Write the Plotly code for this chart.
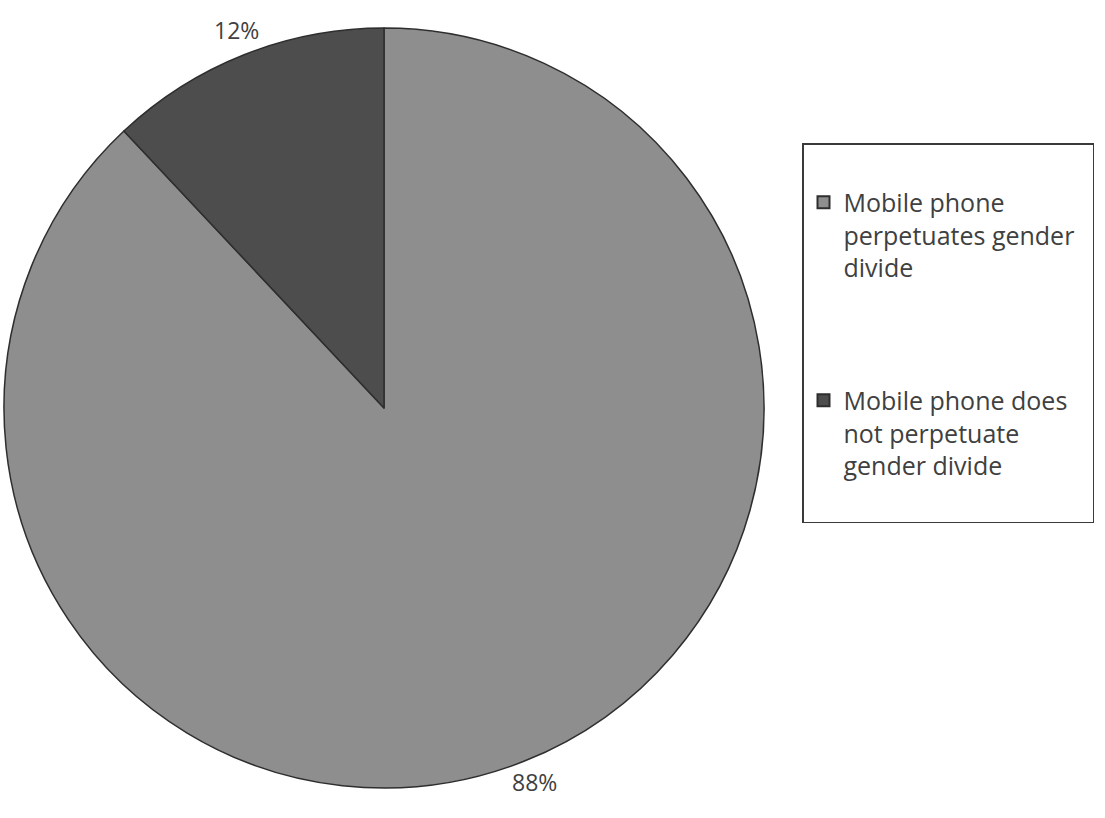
import plotly.graph_objects as go

labels = ["Mobile phone<br>perpetuates gender<br>divide", "Mobile phone does<br>not perpetuate<br>gender divide"]
values = [88, 12]
colors = ["#8e8e8e", "#4d4d4d"]

W, H = 1105, 818
total = sum(values)
pct = [f"{round(v / total * 100)}%" for v in values]

# legend spacing: blank lines after each entry, slight padding on widest line
legend_names = [labels[0].replace("gender<br>", "gender\u00a0\u00a0<br>") + "<br> <br> <br> ",
                labels[1] + "<br> "]

fig = go.Figure(go.Pie(
    labels=legend_names, values=values, sort=False, direction="clockwise", rotation=0,
    marker=dict(colors=colors, line=dict(color="#2e2e2e", width=1.5)),
    textinfo="none",
    domain=dict(x=[4 / W, 764 / W], y=[1 - 788 / H, 1 - 28 / H]),
    showlegend=True,
))
label_pos = [(534, 800), (212, 12)]
for t, (px, py) in zip(pct, label_pos):
    fig.add_annotation(x=px / W, y=1 - py / H, xref="paper", yref="paper",
                       text=t, showarrow=False,
                       font=dict(size=23, color="#404040", family="Open Sans"))
fig.update_layout(
    width=W, height=H, margin=dict(l=0, r=0, t=0, b=0),
    paper_bgcolor="white", plot_bgcolor="white",
    font=dict(family="Open Sans", color="#404040"),
    legend=dict(
        x=802 / W, y=1 - 143 / H, xanchor="left", yanchor="top",
        bordercolor="#3a3a3a", borderwidth=1.5, bgcolor="white",
        font=dict(size=25, color="#404040", family="Open Sans"),
        valign="top", itemsizing="constant",
        title=dict(text=" ", font=dict(size=27)),
    ),
)
fig.write_html("out.html")
